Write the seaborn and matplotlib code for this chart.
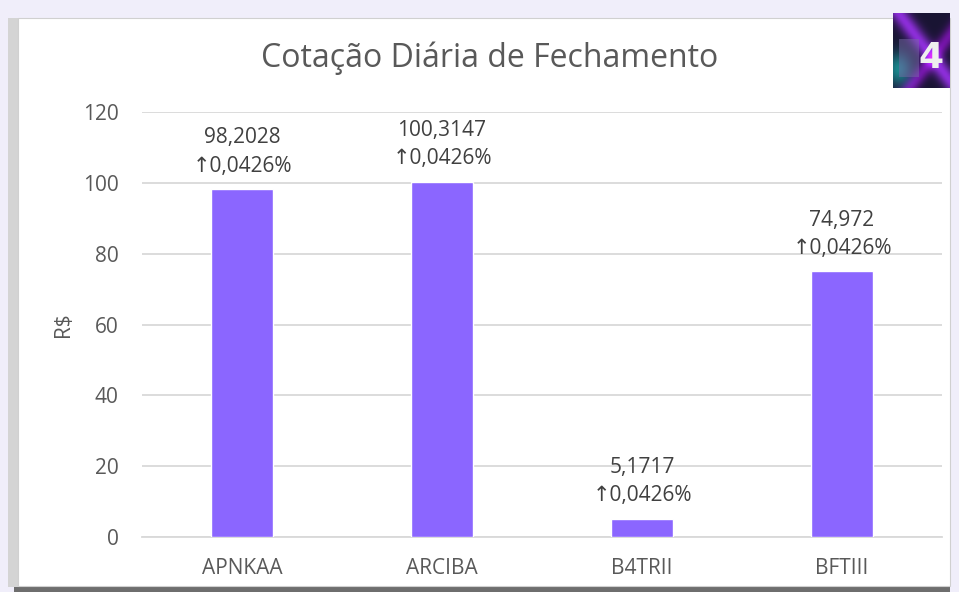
import numpy as np
import pandas as pd
import matplotlib
matplotlib.use('Agg')
import matplotlib.pyplot as plt
import seaborn as sns
from matplotlib.patches import Rectangle

# dados
tickers = ['APNKAA', 'ARCIBA', 'B4TRII', 'BFTIII']
fechamento = [98.2028, 100.3147, 5.1717, 74.972]
variacao = ['0,0426%', '0,0426%', '0,0426%', '0,0426%']
yticks = [0, 20, 40, 60, 80, 100, 120]

df = pd.DataFrame({'ticker': tickers, 'fechamento': fechamento})

sns.set_theme(style='white')
plt.rcParams['font.family'] = ['Open Sans', 'DejaVu Sans']

cinza = '#595959'
roxo = '#8B66FF'

fig = plt.figure(figsize=(9.59, 5.92), dpi=100)
fig.patch.set_facecolor('#F0EEFA')

# cartao branco com sombra
fig.patches.append(Rectangle((14 / 959, 0 / 592), 936 / 959, 8 / 592,
                             transform=fig.transFigure, facecolor='#6e6e6e',
                             edgecolor='none', zorder=-10))
fig.patches.append(Rectangle((8 / 959, 5 / 592), 12 / 959, 569 / 592,
                             transform=fig.transFigure, facecolor='#d4d4d4',
                             edgecolor='none', zorder=-10))
fig.patches.append(Rectangle((18 / 959, 6 / 592), 932 / 959, 568 / 592,
                             transform=fig.transFigure, facecolor='white', edgecolor='#d0d0d0',
                             linewidth=0.8, zorder=-9))

ax = fig.add_axes([142 / 959, 1 - 537 / 592, 800 / 959, 425 / 592])
ax.set_facecolor('none')
sns.barplot(data=df, x='ticker', y='fechamento', color=roxo, width=0.31,
            saturation=1, ax=ax, zorder=3)

ax.set_ylim(0, 120)
ax.set_yticks(yticks)
ax.yaxis.grid(True, color='#d9d9d9', linewidth=1.3, zorder=0)
ax.set_axisbelow(True)
for s in ['top', 'right', 'left']:
    ax.spines[s].set_visible(False)
ax.spines['bottom'].set_color('#d9d9d9')
ax.spines['bottom'].set_linewidth(1.3)
ax.tick_params(axis='both', colors=cinza, labelsize=15, length=0)
ax.tick_params(axis='y', pad=17)
ax.tick_params(axis='x', pad=15)
ax.set_xlabel('')
ax.set_ylabel('R$', color=cinza, fontsize=15, labelpad=6)

for i, (v, p) in enumerate(zip(fechamento, variacao)):
    txt = f'{v:.4f}'.rstrip('0').replace('.', ',')
    ax.annotate(f'{txt}\n↑{p}', (i, v), xytext=(0, 9), textcoords='offset points',
                ha='center', va='bottom', fontsize=15, color='#404040', linespacing=1.45)

fig.text(490 / 959, 1 - 58 / 592, 'Cotação Diária de Fechamento', ha='center', va='center',
         fontsize=23, color=cinza)

# logo
lax = fig.add_axes([893 / 959, 1 - 88 / 592, 57 / 959, 75 / 592])
gy, gx = np.mgrid[0:1:80j, 0:1:80j]
streak1 = np.exp(-((gx - gy - 0.1) ** 2) * 30)
streak2 = np.exp(-((gx + gy - 1.3) ** 2) * 40)
streak3 = np.exp(-((gx - 0.1) ** 2 + (gy - 0.75) ** 2) * 20)
r = 0.10 + 0.45 * streak1 + 0.35 * streak2
g = 0.08 + 0.10 * streak1 + 0.45 * streak3
b = 0.20 + 0.65 * streak1 + 0.45 * streak2 + 0.35 * streak3
lax.imshow(np.clip(np.dstack([r, g, b]), 0, 1), extent=[0, 1, 0, 1], aspect='auto')
lax.add_patch(Rectangle((0.1, 0.15), 0.35, 0.5, facecolor='#7a6aa8', alpha=0.5,
                        edgecolor='none'))
lax.text(0.66, 0.4, '4', color='#eeeeee', fontsize=26, fontweight='bold',
         ha='center', va='center', family='DejaVu Sans')
lax.set_xlim(0, 1)
lax.set_ylim(0, 1)
lax.axis('off')

fig.savefig('out.png', dpi=100, facecolor=fig.get_facecolor())
